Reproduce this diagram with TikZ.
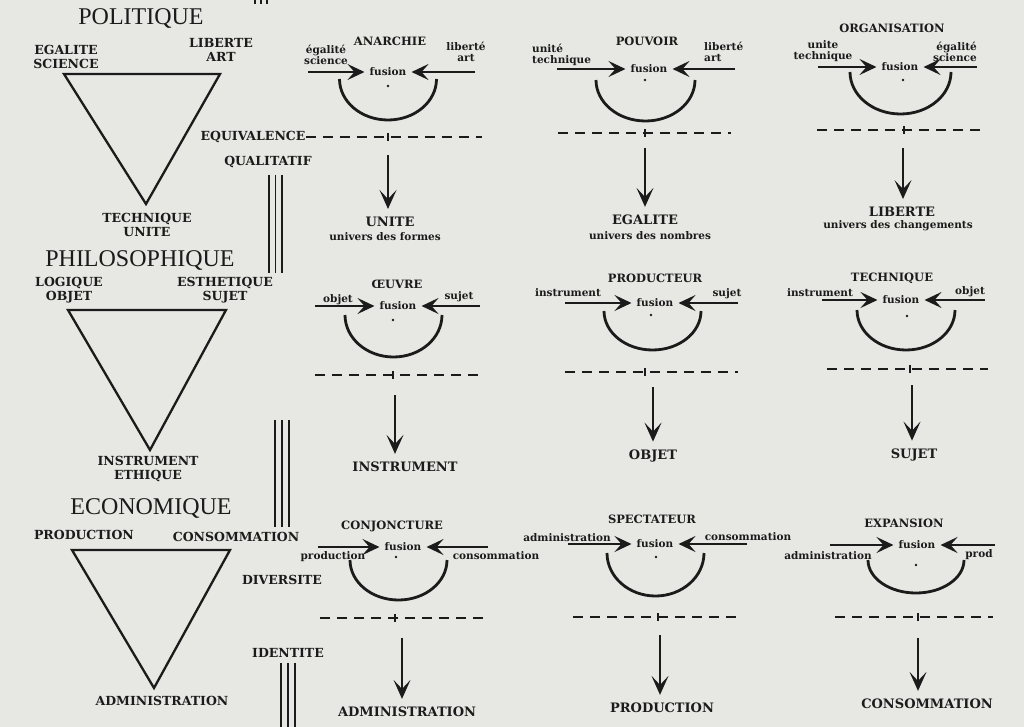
\documentclass[tikz,border=0pt]{standalone}
\usepackage{fontspec}
\setmainfont{DejaVu Serif}
\newfontfamily\titlefont{Liberation Serif}
\usepackage{xcolor}
\definecolor{paper}{HTML}{E7E7E4}
\definecolor{ink}{HTML}{1B1B1B}
\usepackage{tikz}
\usetikzlibrary{arrows.meta}

\tikzset{
    domaine/.style={font=\titlefont\fontsize{24}{26}\selectfont, inner sep=0pt},
    apex/.style={font=\bfseries\fontsize{12.5}{14}\selectfont, align=center, inner sep=0pt},
    dtitle/.style={font=\bfseries\fontsize{11.5}{12}\selectfont, inner sep=0pt},
    outcome/.style={font=\bfseries\fontsize{13}{14}\selectfont, inner sep=2pt},
    note/.style={font=\bfseries\fontsize{10.5}{11}\selectfont, align=center, inner sep=0pt},
    fusebox/.style={note, inner sep=5pt},
    feed/.style={line width=2.2pt, -{Stealth[length=17pt, width=16pt, inset=7pt]}},
    descent/.style={line width=2pt, shorten >=6pt, -{Stealth[length=19pt, width=17pt, inset=9pt]}},
    loopline/.style={line width=2.8pt},
    cutline/.style={line width=1.8pt, dash pattern=on 10pt off 7pt},
    axismark/.style={line width=1.8pt},
    tri/.style={line width=2.3pt, line join=miter},
    triple/.style={line width=1.6pt},
}

\begin{document}
\begin{tikzpicture}[x=1pt, y=-1pt, color=ink]

    % Background
    \useasboundingbox (0,0) rectangle (1024,727);
    \fill[paper] (0,0) rectangle (1024,727);

    % Politique
    \node[domaine] (politique) at (141,19) {POLITIQUE};
    \node[apex] (egalite) at (66,57) {EGALITE\\SCIENCE};
    \node[apex] (liberte) at (221,50) {LIBERTE\\ART};
    \draw[tri] (64,74) -- (220,74) -- (146,204) -- cycle;
    \node[apex] (technique) at (147,225) {TECHNIQUE\\UNITE};

    % Philosophique
    \node[domaine] (philosophique) at (140,260) {PHILOSOPHIQUE};
    \node[apex] (logique) at (69,290) {LOGIQUE\\OBJET};
    \node[apex] (esthetique) at (225,290) {ESTHETIQUE\\SUJET};
    \draw[tri] (68,310) -- (226,310) -- (150,450) -- cycle;
    \node[apex] (instrument) at (148,469) {INSTRUMENT\\ETHIQUE};

    % Economique
    \node[domaine] (economique) at (151,508) {ECONOMIQUE};
    \node[apex] (production) at (84,535) {PRODUCTION};
    \node[apex] (consommation) at (236,537) {CONSOMMATION};
    \draw[tri] (72,550) -- (230,550) -- (154,688) -- cycle;
    \node[apex] (administration) at (162,701) {ADMINISTRATION};

    % Middle words
    \node[apex] (equivalence) at (253,137) {EQUIVALENCE};
    \node[apex] (qualitatif) at (268,162) {QUALITATIF};
    \node[apex] (diversite) at (282,580) {DIVERSITE};
    \node[apex] (identite) at (288,653) {IDENTITE};

    % Triple bars
    \draw[triple] (255,0) -- (255,4) (261,0) -- (261,4) (267,0) -- (267,4);
    \draw[triple] (269,175) -- (269,273) (275.5,175) -- (275.5,273) (282,175) -- (282,273);
    \draw[triple] (275,420) -- (275,527) (282,420) -- (282,527) (289,420) -- (289,527);
    \draw[triple] (281,663) -- (281,727) (288,663) -- (288,727) (295,663) -- (295,727);

    % Anarchie
    \node[dtitle] (anarchie) at (390,41) {ANARCHIE};
    \node[note] (egalite1) at (326,55) {égalité\\science};
    \node[note] (liberte1) at (466,52) {liberté\\art};
    \node[fusebox] (fusion1) at (388,72) {fusion};
    \coordinate (in1l) at (308,72);
    \coordinate (in1r) at (475,72);
    \draw[feed] (in1l) -- (fusion1);
    \draw[feed] (in1r) -- (fusion1);
    \fill (388,86) circle (1.4pt);
    \draw[loopline] (339.5,79) arc[start angle=180, end angle=360, x radius=48.5pt, y radius=41pt];
    \coordinate (cut1) at (482,137);
    \draw[cutline] (equivalence) -- (cut1);
    \draw[axismark] (388,133) -- (388,141);
    \coordinate (drop1) at (388,155);
    \node[outcome] (unite) at (390,222) {UNITE};
    \node[note] (formes) at (385,237) {univers des formes};
    \draw[descent] (drop1) -- (drop1 |- unite.north);

    % Pouvoir
    \node[dtitle] (pouvoir) at (647,41) {POUVOIR};
    \node[note, align=left, anchor=west] (unite2) at (532,55) {unité\\technique};
    \node[note, align=left, anchor=west] (liberte2) at (704,52) {liberté\\art};
    \node[fusebox] (fusion2) at (649,69) {fusion};
    \coordinate (in2l) at (557,69);
    \coordinate (in2r) at (735,69);
    \draw[feed] (in2l) -- (fusion2);
    \draw[feed] (in2r) -- (fusion2);
    \fill (645,80) circle (1.4pt);
    \draw[loopline] (596,80) arc[start angle=180, end angle=360, x radius=49.5pt, y radius=41pt];
    \coordinate (cut2a) at (558,133);
    \coordinate (cut2b) at (731,133);
    \draw[cutline] (cut2a) -- (cut2b);
    \draw[axismark] (645,129) -- (645,137);
    \coordinate (drop2) at (645,148);
    \node[outcome] (egalite2) at (645,220) {EGALITE};
    \node[note] (nombres) at (650,236) {univers des nombres};
    \draw[descent] (drop2) -- (drop2 |- egalite2.north);

    % Organisation
    \node[dtitle] (organisation) at (892,28) {ORGANISATION};
    \node[note] (unite3) at (823,51) {unite\\technique};
    \node[note, align=right, anchor=east] (egalite3) at (977,52) {égalité\\science};
    \node[fusebox] (fusion3) at (900,67) {fusion};
    \coordinate (in3l) at (818,67);
    \coordinate (in3r) at (977,67);
    \draw[feed] (in3l) -- (fusion3);
    \draw[feed] (in3r) -- (fusion3);
    \fill (903,80) circle (1.4pt);
    \draw[loopline] (850,72) arc[start angle=180, end angle=360, x radius=50.5pt, y radius=42pt];
    \coordinate (cut3a) at (817,130);
    \coordinate (cut3b) at (980,130);
    \draw[cutline] (cut3a) -- (cut3b);
    \draw[axismark] (904,126) -- (904,134);
    \coordinate (drop3) at (903,148);
    \node[outcome] (liberte3) at (902,212) {LIBERTE};
    \node[note] (changements) at (898,226) {univers des changements};
    \draw[descent] (drop3) -- (drop3 |- liberte3.north);

    % Oeuvre
    \node[dtitle] (oeuvre) at (397,284) {ŒUVRE};
    \node[note] (objet4) at (338,300) {objet};
    \node[note] (sujet4) at (459,297) {sujet};
    \node[fusebox] (fusion4) at (398,306) {fusion};
    \coordinate (in4l) at (315,306);
    \coordinate (in4r) at (480,306);
    \draw[feed] (in4l) -- (fusion4);
    \draw[feed] (in4r) -- (fusion4);
    \fill (393,320) circle (1.4pt);
    \draw[loopline] (345,315) arc[start angle=180, end angle=360, x radius=48.5pt, y radius=42pt];
    \coordinate (cut4a) at (315,375);
    \coordinate (cut4b) at (480,375);
    \draw[cutline] (cut4a) -- (cut4b);
    \draw[axismark] (393,371) -- (393,379);
    \coordinate (drop4) at (395,395);
    \node[outcome] (instrument4) at (405,467) {INSTRUMENT};
    \draw[descent] (drop4) -- (drop4 |- instrument4.north);

    % Producteur
    \node[dtitle] (producteur) at (655,278) {PRODUCTEUR};
    \node[note] (instrument5) at (568,293) {instrument};
    \node[note] (sujet5) at (727,294) {sujet};
    \node[fusebox] (fusion5) at (655,303) {fusion};
    \coordinate (in5l) at (565,303);
    \coordinate (in5r) at (738,303);
    \draw[feed] (in5l) -- (fusion5);
    \draw[feed] (in5r) -- (fusion5);
    \fill (651,315) circle (1.4pt);
    \draw[loopline] (604,311) arc[start angle=180, end angle=360, x radius=48.5pt, y radius=39pt];
    \coordinate (cut5a) at (565,372);
    \coordinate (cut5b) at (738,372);
    \draw[cutline] (cut5a) -- (cut5b);
    \draw[axismark] (645,368) -- (645,376);
    \coordinate (drop5) at (653,387);
    \node[outcome] (objet5) at (653,456) {OBJET};
    \draw[descent] (drop5) -- (drop5 |- objet5.north);

    % Technique
    \node[dtitle] (technique6) at (892,278) {TECHNIQUE};
    \node[note] (instrument6) at (820,293) {instrument};
    \node[note] (objet6) at (970,292) {objet};
    \node[fusebox] (fusion6) at (901,300) {fusion};
    \coordinate (in6l) at (822,300);
    \coordinate (in6r) at (985,300);
    \draw[feed] (in6l) -- (fusion6);
    \draw[feed] (in6r) -- (fusion6);
    \fill (907,316) circle (1.4pt);
    \draw[loopline] (857,310) arc[start angle=180, end angle=360, x radius=49pt, y radius=40pt];
    \coordinate (cut6a) at (827,369);
    \coordinate (cut6b) at (988,369);
    \draw[cutline] (cut6a) -- (cut6b);
    \draw[axismark] (910,365) -- (910,373);
    \coordinate (drop6) at (912,385);
    \node[outcome] (sujet6) at (914,455) {SUJET};
    \draw[descent] (drop6) -- (drop6 |- sujet6.north);

    % Conjoncture
    \node[dtitle] (conjoncture) at (392,526) {CONJONCTURE};
    \node[note] (production7) at (333,557) {production};
    \node[note] (consommation7) at (496,556) {consommation};
    \node[fusebox] (fusion7) at (403,547) {fusion};
    \coordinate (in7l) at (318,547);
    \coordinate (in7r) at (488,547);
    \draw[feed] (in7l) -- (fusion7);
    \draw[feed] (in7r) -- (fusion7);
    \fill (396,557) circle (1.4pt);
    \draw[loopline] (350,560) arc[start angle=180, end angle=360, x radius=48.5pt, y radius=40pt];
    \coordinate (cut7a) at (320,618);
    \coordinate (cut7b) at (490,618);
    \draw[cutline] (cut7a) -- (cut7b);
    \draw[axismark] (395,614) -- (395,622);
    \coordinate (drop7) at (402,638);
    \node[outcome] (administration7) at (407,712) {ADMINISTRATION};
    \draw[descent] (drop7) -- (drop7 |- administration7.north);

    % Spectateur
    \node[dtitle] (spectateur) at (652,519) {SPECTATEUR};
    \node[note] (administration8) at (567,538) {administration};
    \node[note] (consommation8) at (748,537) {consommation};
    \node[fusebox] (fusion8) at (655,544) {fusion};
    \coordinate (in8l) at (568,544);
    \coordinate (in8r) at (747,544);
    \draw[feed] (in8l) -- (fusion8);
    \draw[feed] (in8r) -- (fusion8);
    \fill (656,557) circle (1.4pt);
    \draw[loopline] (607,553) arc[start angle=180, end angle=360, x radius=48.5pt, y radius=43pt];
    \coordinate (cut8a) at (573,617);
    \coordinate (cut8b) at (743,617);
    \draw[cutline] (cut8a) -- (cut8b);
    \draw[axismark] (658,613) -- (658,621);
    \coordinate (drop8) at (660,635);
    \node[outcome] (production8) at (662,708) {PRODUCTION};
    \draw[descent] (drop8) -- (drop8 |- production8.north);

    % Expansion
    \node[dtitle] (expansion) at (904,523) {EXPANSION};
    \node[note] (administration9) at (828,556) {administration};
    \node[note] (prod9) at (979,555) {prod};
    \node[fusebox] (fusion9) at (917,545) {fusion};
    \coordinate (in9l) at (830,545);
    \coordinate (in9r) at (995,545);
    \draw[feed] (in9l) -- (fusion9);
    \draw[feed] (in9r) -- (fusion9);
    \fill (916,565) circle (1.4pt);
    \draw[loopline] (868,560) arc[start angle=180, end angle=360, x radius=48pt, y radius=33pt];
    \coordinate (cut9a) at (835,617);
    \coordinate (cut9b) at (993,617);
    \draw[cutline] (cut9a) -- (cut9b);
    \draw[axismark] (918,613) -- (918,621);
    \coordinate (drop9) at (918,638);
    \node[outcome] (consommation9) at (927,704) {CONSOMMATION};
    \draw[descent] (drop9) -- (drop9 |- consommation9.north);

\end{tikzpicture}
\end{document}
